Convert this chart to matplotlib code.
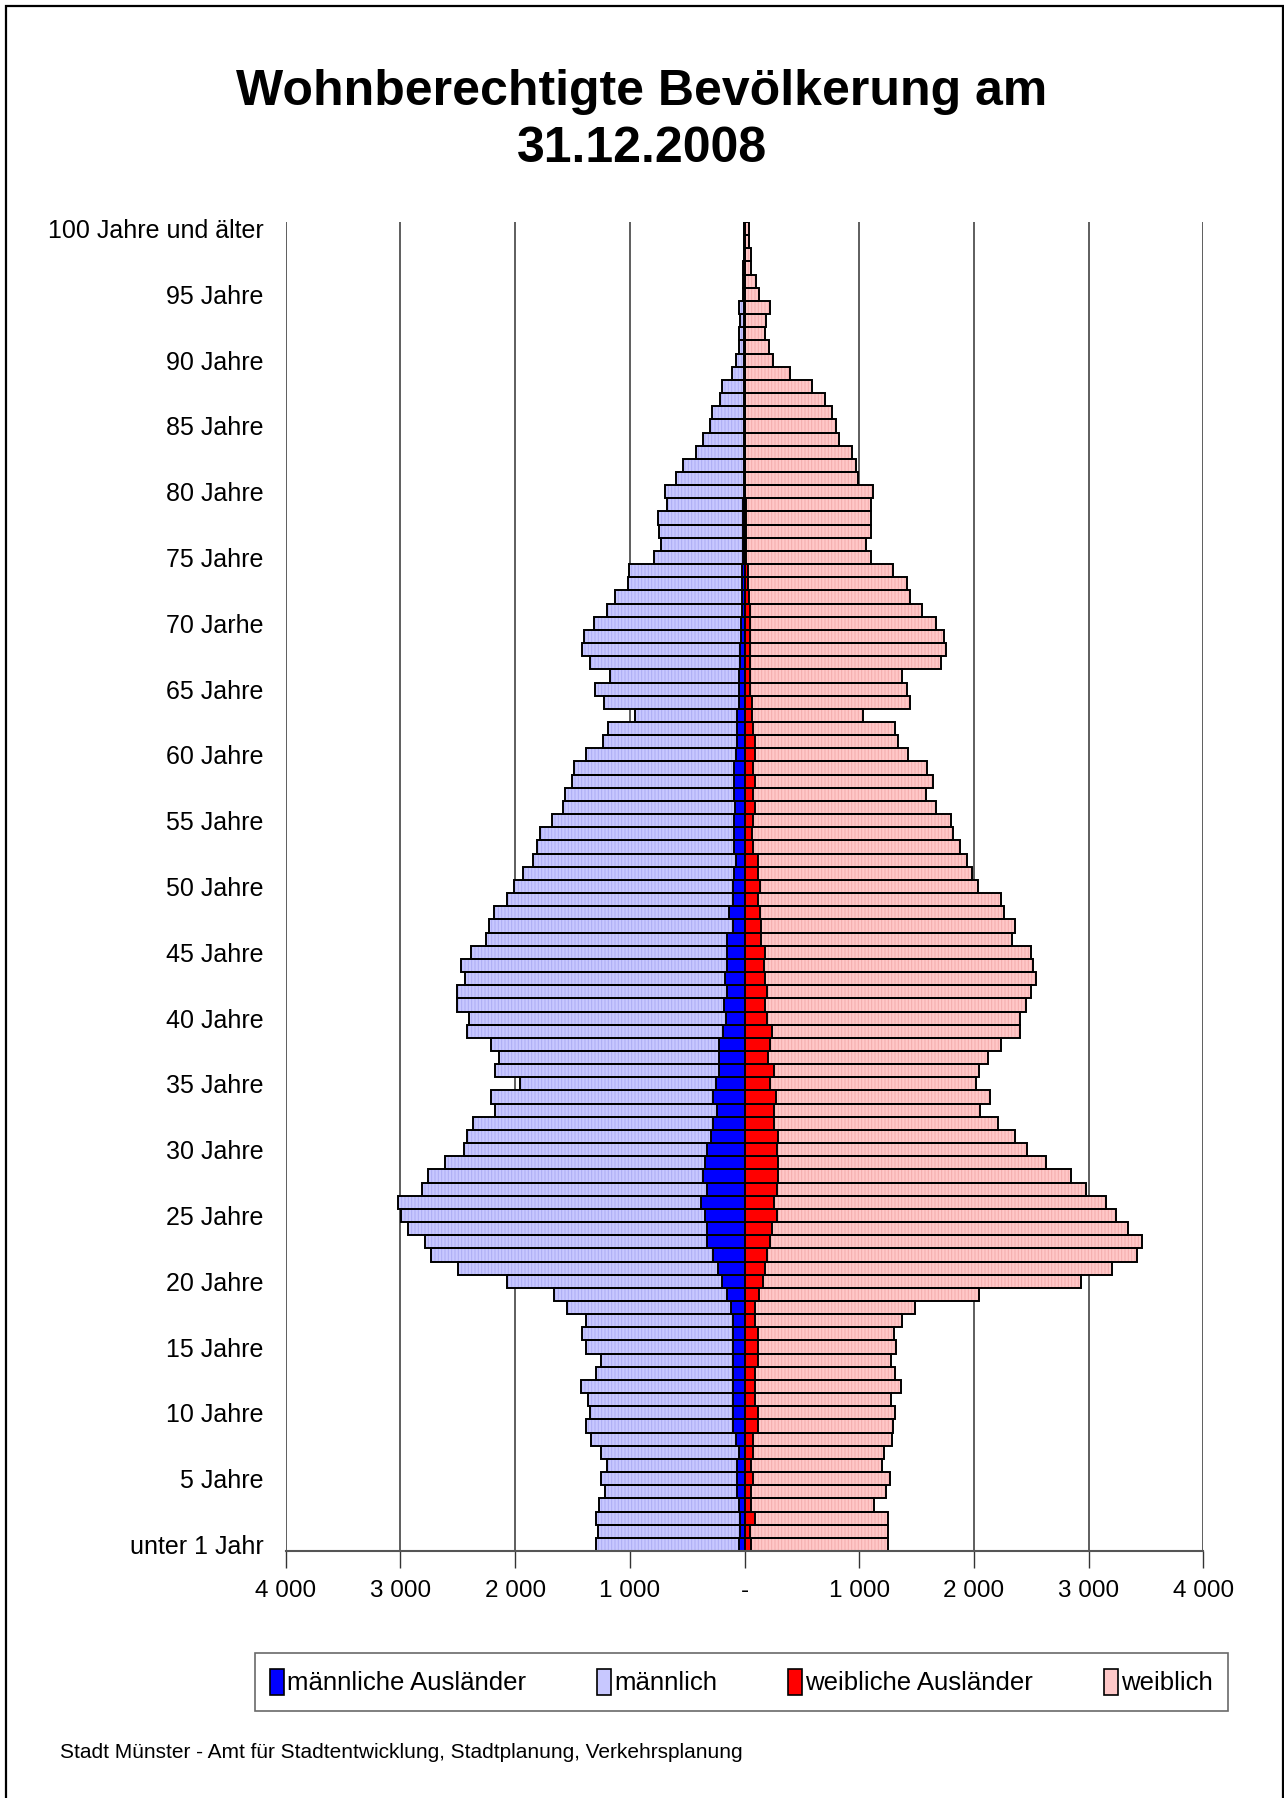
import matplotlib
matplotlib.use("Agg")
import matplotlib.pyplot as plt
from matplotlib.patches import Patch, Rectangle
import numpy as np

plt.rcParams['font.family'] = ['Liberation Sans', 'DejaVu Sans']
plt.rcParams['hatch.linewidth'] = 0.7

# ---------------- data (age 0 ... 100) ----------------
ages = list(range(0, 101))

male_total = [
    1299, 1273, 1299, 1268, 1216, 1253, 1201, 1253, 1336, 1383,
    1351, 1367, 1429, 1299, 1253, 1383, 1414, 1383, 1549, 1663,
    2074, 2500, 2734, 2786, 2931, 2994, 3025, 2812, 2760, 2614,
    2448, 2422, 2370, 2173, 2209, 1960, 2173, 2141, 2209, 2422,
    2406, 2505, 2505, 2438, 2469, 2386, 2256, 2225, 2188, 2074,
    2006, 1928, 1845, 1809, 1783, 1679, 1580, 1564, 1502, 1486,
    1383, 1237, 1190, 956, 1221, 1305, 1175, 1351, 1419, 1403,
    1315, 1201, 1133, 1019, 1003, 785, 728, 743, 754, 676,
    691, 593, 540, 426, 360, 300, 280, 215, 200, 110,
    70, 50, 50, 40, 50, 15, 10, 15, 5, 5,
    5]

male_foreign = [
    52, 42, 42, 52, 68, 68, 68, 52, 73, 99,
    99, 99, 99, 99, 99, 99, 99, 99, 114, 151,
    198, 229, 275, 327, 327, 348, 379, 327, 364, 343,
    327, 296, 275, 239, 275, 249, 218, 218, 218, 187,
    161, 182, 151, 166, 151, 151, 151, 99, 135, 99,
    99, 88, 73, 88, 88, 88, 83, 88, 88, 88,
    78, 68, 62, 62, 52, 47, 52, 40, 35, 30,
    30, 25, 25, 20, 20, 10, 10, 10, 10, 10,
    5, 5, 5, 5, 5, 5, 5, 5, 5, 5,
    5, 5, 5, 5, 5, 5, 5, 5, 5, 5,
    5]

female_total = [
    1247, 1247, 1247, 1133, 1232, 1268, 1201, 1216, 1289, 1299,
    1310, 1279, 1367, 1310, 1279, 1325, 1305, 1372, 1486, 2043,
    2931, 3207, 3420, 3467, 3342, 3243, 3155, 2978, 2843, 2630,
    2464, 2360, 2214, 2053, 2141, 2022, 2043, 2121, 2240, 2406,
    2406, 2453, 2500, 2542, 2516, 2500, 2334, 2360, 2266, 2240,
    2037, 1980, 1944, 1876, 1814, 1804, 1668, 1580, 1642, 1590,
    1424, 1336, 1315, 1029, 1445, 1419, 1372, 1710, 1757, 1741,
    1668, 1549, 1445, 1419, 1299, 1102, 1060, 1102, 1107, 1107,
    1117, 993, 972, 941, 821, 800, 760, 705, 590, 395,
    245, 210, 180, 190, 220, 130, 100, 60, 55, 35,
    40]

female_foreign = [
    57, 47, 94, 57, 57, 73, 57, 73, 73, 114,
    114, 94, 94, 94, 114, 114, 114, 94, 94, 130,
    161, 177, 192, 223, 244, 281, 260, 281, 296, 296,
    281, 296, 260, 260, 275, 223, 260, 208, 223, 244,
    192, 177, 192, 177, 166, 177, 146, 146, 135, 120,
    135, 114, 114, 73, 62, 73, 94, 78, 94, 73,
    88, 94, 73, 62, 68, 52, 47, 50, 50, 50,
    45, 50, 35, 30, 30, 15, 15, 15, 15, 15,
    5, 5, 5, 5, 5, 5, 5, 5, 5, 5,
    5, 5, 5, 5, 5, 5, 5, 5, 5, 5,
    5]

tick_ages = list(range(0, 101, 5))
tick_age_labels = ["unter 1 Jahr", "5 Jahre", "10 Jahre", "15 Jahre", "20 Jahre",
                   "25 Jahre", "30 Jahre", "35 Jahre", "40 Jahre", "45 Jahre",
                   "50 Jahre", "55 Jahre", "60 Jahre", "65 Jahre", "70 Jarhe",
                   "75 Jahre", "80 Jahre", "85 Jahre", "90 Jahre", "95 Jahre",
                   "100 Jahre und älter"]
x_ticks = [-4000, -3000, -2000, -1000, 0, 1000, 2000, 3000, 4000]
x_tick_labels = ["4 000", "3 000", "2 000", "1 000", "-", "1 000", "2 000", "3 000", "4 000"]

series_names = ["männliche Ausländer", "männlich", "weibliche Ausländer", "weiblich"]

# ---------------- styles ----------------
c_male_light = "#C8C8FF"
c_male_hatch = "#ACACF4"
c_female_light = "#FFC8C8"
c_female_hatch = "#F4ACAC"
c_male_for = "#0000FF"
c_female_for = "#FF0000"

W, H = 1284, 1798
fig = plt.figure(figsize=(W / 100, H / 100), dpi=100)
ax_left, ax_right, ax_top, ax_bot = 285.7, 1203.3, 222, 1551
ax = fig.add_axes([ax_left / W, 1 - ax_bot / H, (ax_right - ax_left) / W, (ax_bot - ax_top) / H])

y = np.array(ages)
mt = -np.array(male_total)
mf = -np.array(male_foreign)
ft = np.array(female_total)
ff = np.array(female_foreign)

hatch = "|||||"
ax.barh(y, mt, height=1.0, color=c_male_light, edgecolor=c_male_hatch, hatch=hatch, linewidth=0, zorder=2)
ax.barh(y, ft, height=1.0, color=c_female_light, edgecolor=c_female_hatch, hatch=hatch, linewidth=0, zorder=2)
ax.barh(y, mt, height=1.0, fill=False, edgecolor="black", linewidth=1.4, zorder=3)
ax.barh(y, ft, height=1.0, fill=False, edgecolor="black", linewidth=1.4, zorder=3)
ax.barh(y, mf, height=1.0, color=c_male_for, edgecolor="black", linewidth=1.4, zorder=4)
ax.barh(y, ff, height=1.0, color=c_female_for, edgecolor="black", linewidth=1.4, zorder=4)

ax.set_xlim(-4000, 4000)
ax.set_ylim(-0.5, 100.5)
ax.set_xticks(x_ticks)
ax.set_xticklabels(x_tick_labels, fontsize=17.5)
ax.set_yticks(tick_ages)
ax.set_yticklabels(tick_age_labels, fontsize=18)
ax.tick_params(axis="y", length=0, pad=16)
ax.tick_params(axis="x", direction="out", length=12, width=1, color="#333333", pad=9)

for s in ["top", "left", "right"]:
    ax.spines[s].set_visible(False)
ax.spines["bottom"].set_color("#555555")
ax.spines["bottom"].set_linewidth(1.5)
ax.spines["bottom"].set_zorder(5)

ax.set_axisbelow(True)
ax.xaxis.grid(True, color="#333333", linewidth=1.1, zorder=0)

# title
fig.text(0.5, 1 - 92 / H, "Wohnberechtigte Bevölkerung am", ha="center", va="center",
         fontsize=36, fontweight="bold")
fig.text(0.5, 1 - 149 / H, "31.12.2008", ha="center", va="center",
         fontsize=36, fontweight="bold")

# legend
handles = [
    Patch(facecolor=c_male_for, edgecolor="black", linewidth=1.2),
    Patch(facecolor=c_male_light, edgecolor="black", linewidth=1.2),
    Patch(facecolor=c_female_for, edgecolor="black", linewidth=1.2),
    Patch(facecolor=c_female_light, edgecolor="black", linewidth=1.2),
]
lx0, lx1, ly0, ly1 = 254.5, 1228, 1651, 1713
leg = fig.legend(handles, series_names, loc="center", ncol=4,
                 bbox_to_anchor=(lx0 / W, 1 - ly1 / H, (lx1 - lx0) / W, (ly1 - ly0) / H),
                 mode="expand", fontsize=18.5, frameon=True, fancybox=False,
                 handlelength=0.55, handleheight=1.2, handletextpad=0.12,
                 borderaxespad=0, borderpad=0.6, columnspacing=1.0)
leg.get_frame().set_edgecolor("#444444")
leg.get_frame().set_linewidth(1.2)

# footer
fig.text(60 / W, 1 - 1752 / H, "Stadt Münster - Amt für Stadtentwicklung, Stadtplanung, Verkehrsplanung",
         ha="left", va="center", fontsize=15)

# outer border
fig.add_artist(Rectangle((6 / W, -0.02), (1282.5 - 6) / W, 1 - 6 / H + 0.02,
                         transform=fig.transFigure, fill=False, edgecolor="black", linewidth=1.6))

fig.savefig("out.png", dpi=100)
